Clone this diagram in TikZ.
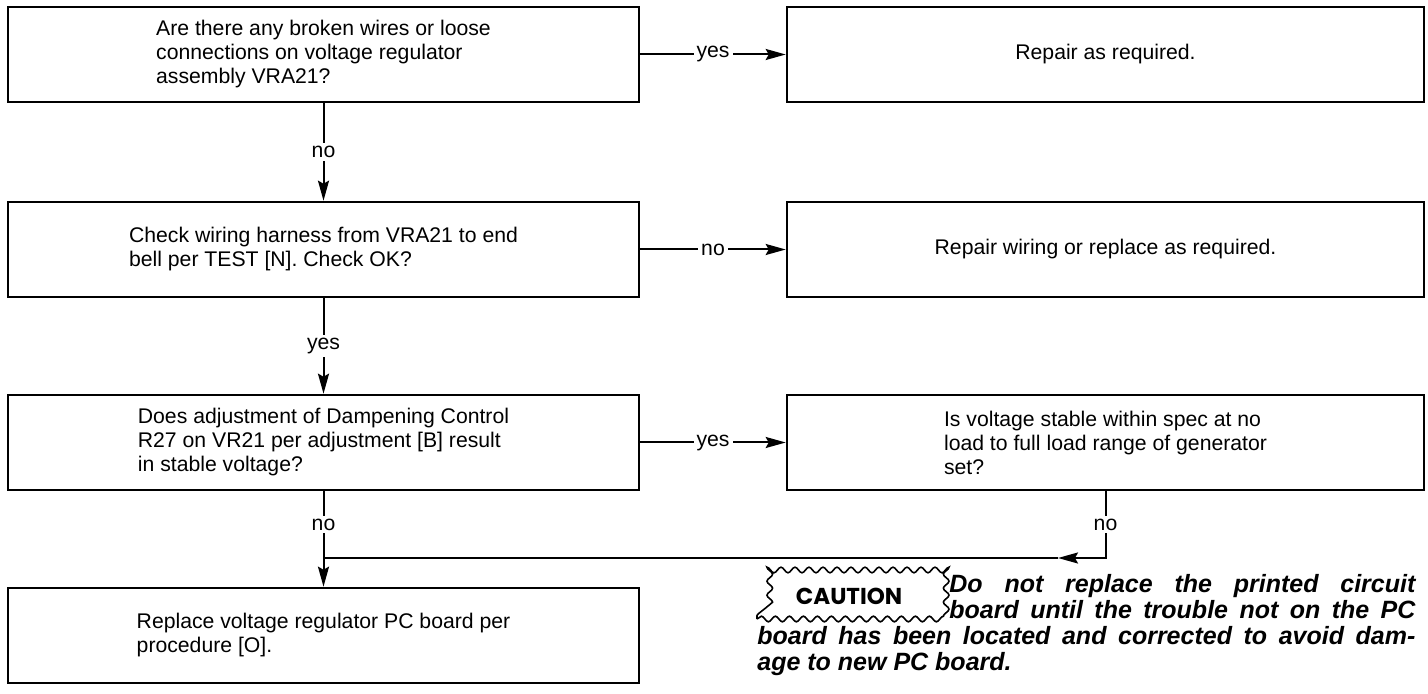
\documentclass[tikz,border=0pt]{standalone}
\usepackage{fontspec}
\setmainfont{Liberation Sans}
\newfontfamily\cautionfont{Poppins}
\usetikzlibrary{arrows.meta,decorations.pathmorphing}
\begin{document}
\begin{tikzpicture}[x=0.5pt,y=-0.5pt,
  box/.style={draw=black, line width=1.3pt, minimum width=315.5pt, minimum height=47.5pt,
              inner sep=0pt, align=left, font=\fontsize{10.6}{12}\selectfont},
  wide box/.style={box, minimum width=318.5pt, align=center},
  link/.style={draw=black, line width=1pt, -{Stealth[length=10pt,width=5.5pt,inset=1.5pt]}},
  lbl/.style={fill=white, inner sep=1.5pt, font=\fontsize{10.6}{12}\selectfont},
  badge/.style={draw=black, line width=0.8pt, decorate,
                decoration={snake, amplitude=1.4pt, segment length=7pt},
                minimum width=92pt, minimum height=23pt, inner sep=0pt,
                font=\cautionfont\bfseries\fontsize{11.5}{12}\selectfont},
  note/.style={inner sep=0pt, anchor=north west,
               font=\bfseries\itshape\fontsize{12.5}{13}\selectfont}]

\useasboundingbox (0,0) rectangle (1428,694);

 \node[box] (wires) at (323.5,54.5) {Are there any broken wires or loose\\connections on voltage regulator\\assembly VRA21?};
 \node[wide box] (repair) at (1105.5,54.5) {Repair as required.};
 \node[box] (harness) at (323.5,249.5) {Check wiring harness from VRA21 to end\\bell per TEST [N]. Check OK?};
 \node[wide box] (rewire) at (1105.5,249.5) {Repair wiring or replace as required.};
 \node[box] (damping) at (323.5,442.5) {Does adjustment of Dampening Control\\R27 on VR21 per adjustment [B] result\\in stable voltage?};
 \node[wide box, align=left] (stable) at (1105.5,442.5) {Is voltage stable within spec at no\\load to full load range of generator\\set?};
 \node[box] (board) at (323.5,635.5) {Replace voltage regulator PC board per\\procedure [O].};

 \draw[link] (wires.east) -- node[lbl] {yes} (repair.west);
 \draw[link] (wires.south) -- node[lbl] {no} (harness.north);
 \draw[link] (harness.east) -- node[lbl] {no} (rewire.west);
 \draw[link] (harness.south) -- node[lbl] {yes} (damping.north);
 \draw[link] (damping.east) -- node[lbl] {yes} (stable.west);
 \draw[link] (damping.south) -- node[lbl, pos=0.35] {no} (board.north);

 % way back from the right column
 \coordinate (tip) at (1058,558);
 \coordinate (join) at (323.5,558);
 \draw[link] (stable.south) |- node[lbl, pos=0.25] {no} (tip);
 \draw[line width=1pt] (tip) -- (join);

 \node[badge] (caution) at (849,596) {CAUTION};
 \node[note] (warning) at (757,574) {\parbox[t]{329pt}{\parshape 3 96pt 233pt 96pt 233pt 0pt 329pt
   Do not replace the printed circuit\linebreak
   board until the trouble not on the PC\linebreak
   board has been located and corrected to avoid dam-\linebreak
   age to new PC board.}};
\end{tikzpicture}
\end{document}
